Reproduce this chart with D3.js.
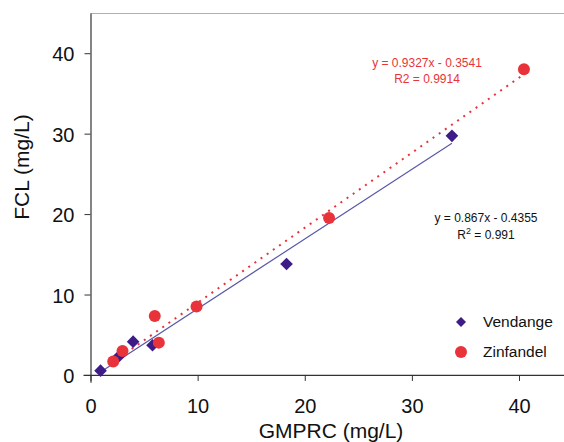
<!DOCTYPE html>
<html>
<head>
<meta charset="utf-8">
<script src="https://cdn.jsdelivr.net/npm/d3@7"></script>
<style>
  body { margin: 0; background: #fff; }
  text { font-family: "Liberation Sans", Arial, sans-serif; }
</style>
</head>
<body>
<div id="chart"></div>
<script>
// data
const vendangeX = [0.94, 2.68, 3.98, 5.79, 18.3, 33.74];
const vendangeY = [0.53, 2.36, 4.14, 3.69, 13.8, 29.73];
const zinfandelX = [2.12, 2.99, 6.0, 6.38, 9.9, 22.27, 40.46];
const zinfandelY = [1.66, 2.99, 7.34, 4.02, 8.5, 19.5, 38.0];
const xTicks = [0, 10, 20, 30, 40];
const yTicks = [0, 10, 20, 30, 40];
const vendangeFit = { slope: 0.867, intercept: -0.4355 };
const zinfandelFit = { slope: 0.9327, intercept: -0.3541 };

const width = 564;
const height = 442;

const svg = d3.select("#chart")
    .append("svg")
    .attr("width", width)
    .attr("height", height);

const xScale = d3.scaleLinear().domain([-0.7, 44.2]).range([83, 564]);
const yScale = d3.scaleLinear().domain([-0.9, 45]).range([382.2, 13]);

// top frame line
svg.append("line")
    .attr("x1", xScale(0)).attr("x2", 564)
    .attr("y1", 13.5).attr("y2", 13.5)
    .attr("stroke", "#b0b0b0")
    .attr("stroke-width", 1);

const xAxis = svg.append("g")
    .attr("transform", `translate(0,${yScale(0)})`)
    .call(d3.axisBottom(xScale).tickValues(xTicks).tickSize(6).tickSizeOuter(0).tickPadding(18));

const yAxis = svg.append("g")
    .attr("transform", `translate(${xScale(0)},0)`)
    .call(d3.axisLeft(yScale).tickValues(yTicks).tickSize(6).tickSizeOuter(0).tickPadding(10));

[xAxis, yAxis].forEach((g) => {
    g.select(".domain").attr("stroke", "#333").attr("stroke-width", 1.2);
    g.selectAll(".tick line").attr("stroke", "#333");
    g.selectAll(".tick text")
        .style("font-family", "Liberation Sans, Arial, sans-serif")
        .style("font-size", "20px")
        .attr("fill", "#111");
});
yAxis.selectAll(".tick text").attr("dy", "0.38em");

svg.append("text")
    .attr("x", 331)
    .attr("y", 438)
    .style("text-anchor", "middle")
    .style("font-size", "21px")
    .attr("fill", "#111")
    .text("GMPRC (mg/L)");

svg.append("text")
    .attr("transform", "rotate(-90)")
    .attr("x", -167)
    .attr("y", 29)
    .style("text-anchor", "middle")
    .style("font-size", "21px")
    .attr("fill", "#111")
    .text("FCL (mg/L)");

// trend lines
const vFitLine = d3.extent(vendangeX).map((x) => [x, vendangeFit.slope * x + vendangeFit.intercept]);
const zFitLine = d3.extent(zinfandelX).map((x) => [x, zinfandelFit.slope * x + zinfandelFit.intercept]);
const line = d3.line().x((d) => xScale(d[0])).y((d) => yScale(d[1]));

svg.append("path")
    .attr("d", line(vFitLine))
    .attr("fill", "none")
    .attr("stroke", "#5858a8")
    .attr("stroke-width", 1.2);

svg.append("path")
    .attr("d", line(zFitLine))
    .attr("fill", "none")
    .attr("stroke", "#e8333a")
    .attr("stroke-width", 2)
    .attr("stroke-dasharray", "2,5.5");

// points
const zinfandel = zinfandelX.map((x, i) => ({ x: x, y: zinfandelY[i] }));
const vendange = vendangeX.map((x, i) => ({ x: x, y: vendangeY[i] }));

const diamond = d3.symbol().type(d3.symbolSquare).size(80);

svg.selectAll(".vend")
    .data(vendange)
    .enter()
    .append("path")
    .attr("class", "vend")
    .attr("d", diamond)
    .attr("transform", (d) => `translate(${xScale(d.x)},${yScale(d.y)}) rotate(45)`)
    .attr("fill", "#3d1c87");

svg.selectAll(".zin")
    .data(zinfandel)
    .enter()
    .append("circle")
    .attr("class", "zin")
    .attr("cx", (d) => xScale(d.x))
    .attr("cy", (d) => yScale(d.y))
    .attr("r", 6)
    .attr("fill", "#e8333a");

// equations
svg.append("text")
    .attr("x", 427).attr("y", 67)
    .style("text-anchor", "middle")
    .style("font-size", "12px")
    .attr("fill", "#e8333a")
    .text("y = 0.9327x - 0.3541");
svg.append("text")
    .attr("x", 427).attr("y", 83)
    .style("text-anchor", "middle")
    .style("font-size", "12px")
    .attr("fill", "#e8333a")
    .text("R2 = 0.9914");

svg.append("text")
    .attr("x", 486).attr("y", 222)
    .style("text-anchor", "middle")
    .style("font-size", "12px")
    .attr("fill", "#111")
    .text("y = 0.867x - 0.4355");
const r2 = svg.append("text")
    .attr("x", 486).attr("y", 239)
    .style("text-anchor", "middle")
    .style("font-size", "12px")
    .attr("fill", "#111");
r2.append("tspan").text("R");
r2.append("tspan").attr("dy", -5).style("font-size", "9px").text("2");
r2.append("tspan").attr("dy", 5).text(" = 0.991");

// legend
const legend = svg.append("g").attr("transform", "translate(461,322)");
legend.append("path")
    .attr("d", d3.symbol().type(d3.symbolSquare).size(50)())
    .attr("transform", "rotate(45)")
    .attr("fill", "#3d1c87");
legend.append("text")
    .attr("x", 22).attr("y", 5)
    .style("font-size", "15.5px")
    .attr("fill", "#111")
    .text("Vendange");
legend.append("circle")
    .attr("cx", 0).attr("cy", 30)
    .attr("r", 6)
    .attr("fill", "#e8333a");
legend.append("text")
    .attr("x", 22).attr("y", 35)
    .style("font-size", "15.5px")
    .attr("fill", "#111")
    .text("Zinfandel");
</script>
</body>
</html>
